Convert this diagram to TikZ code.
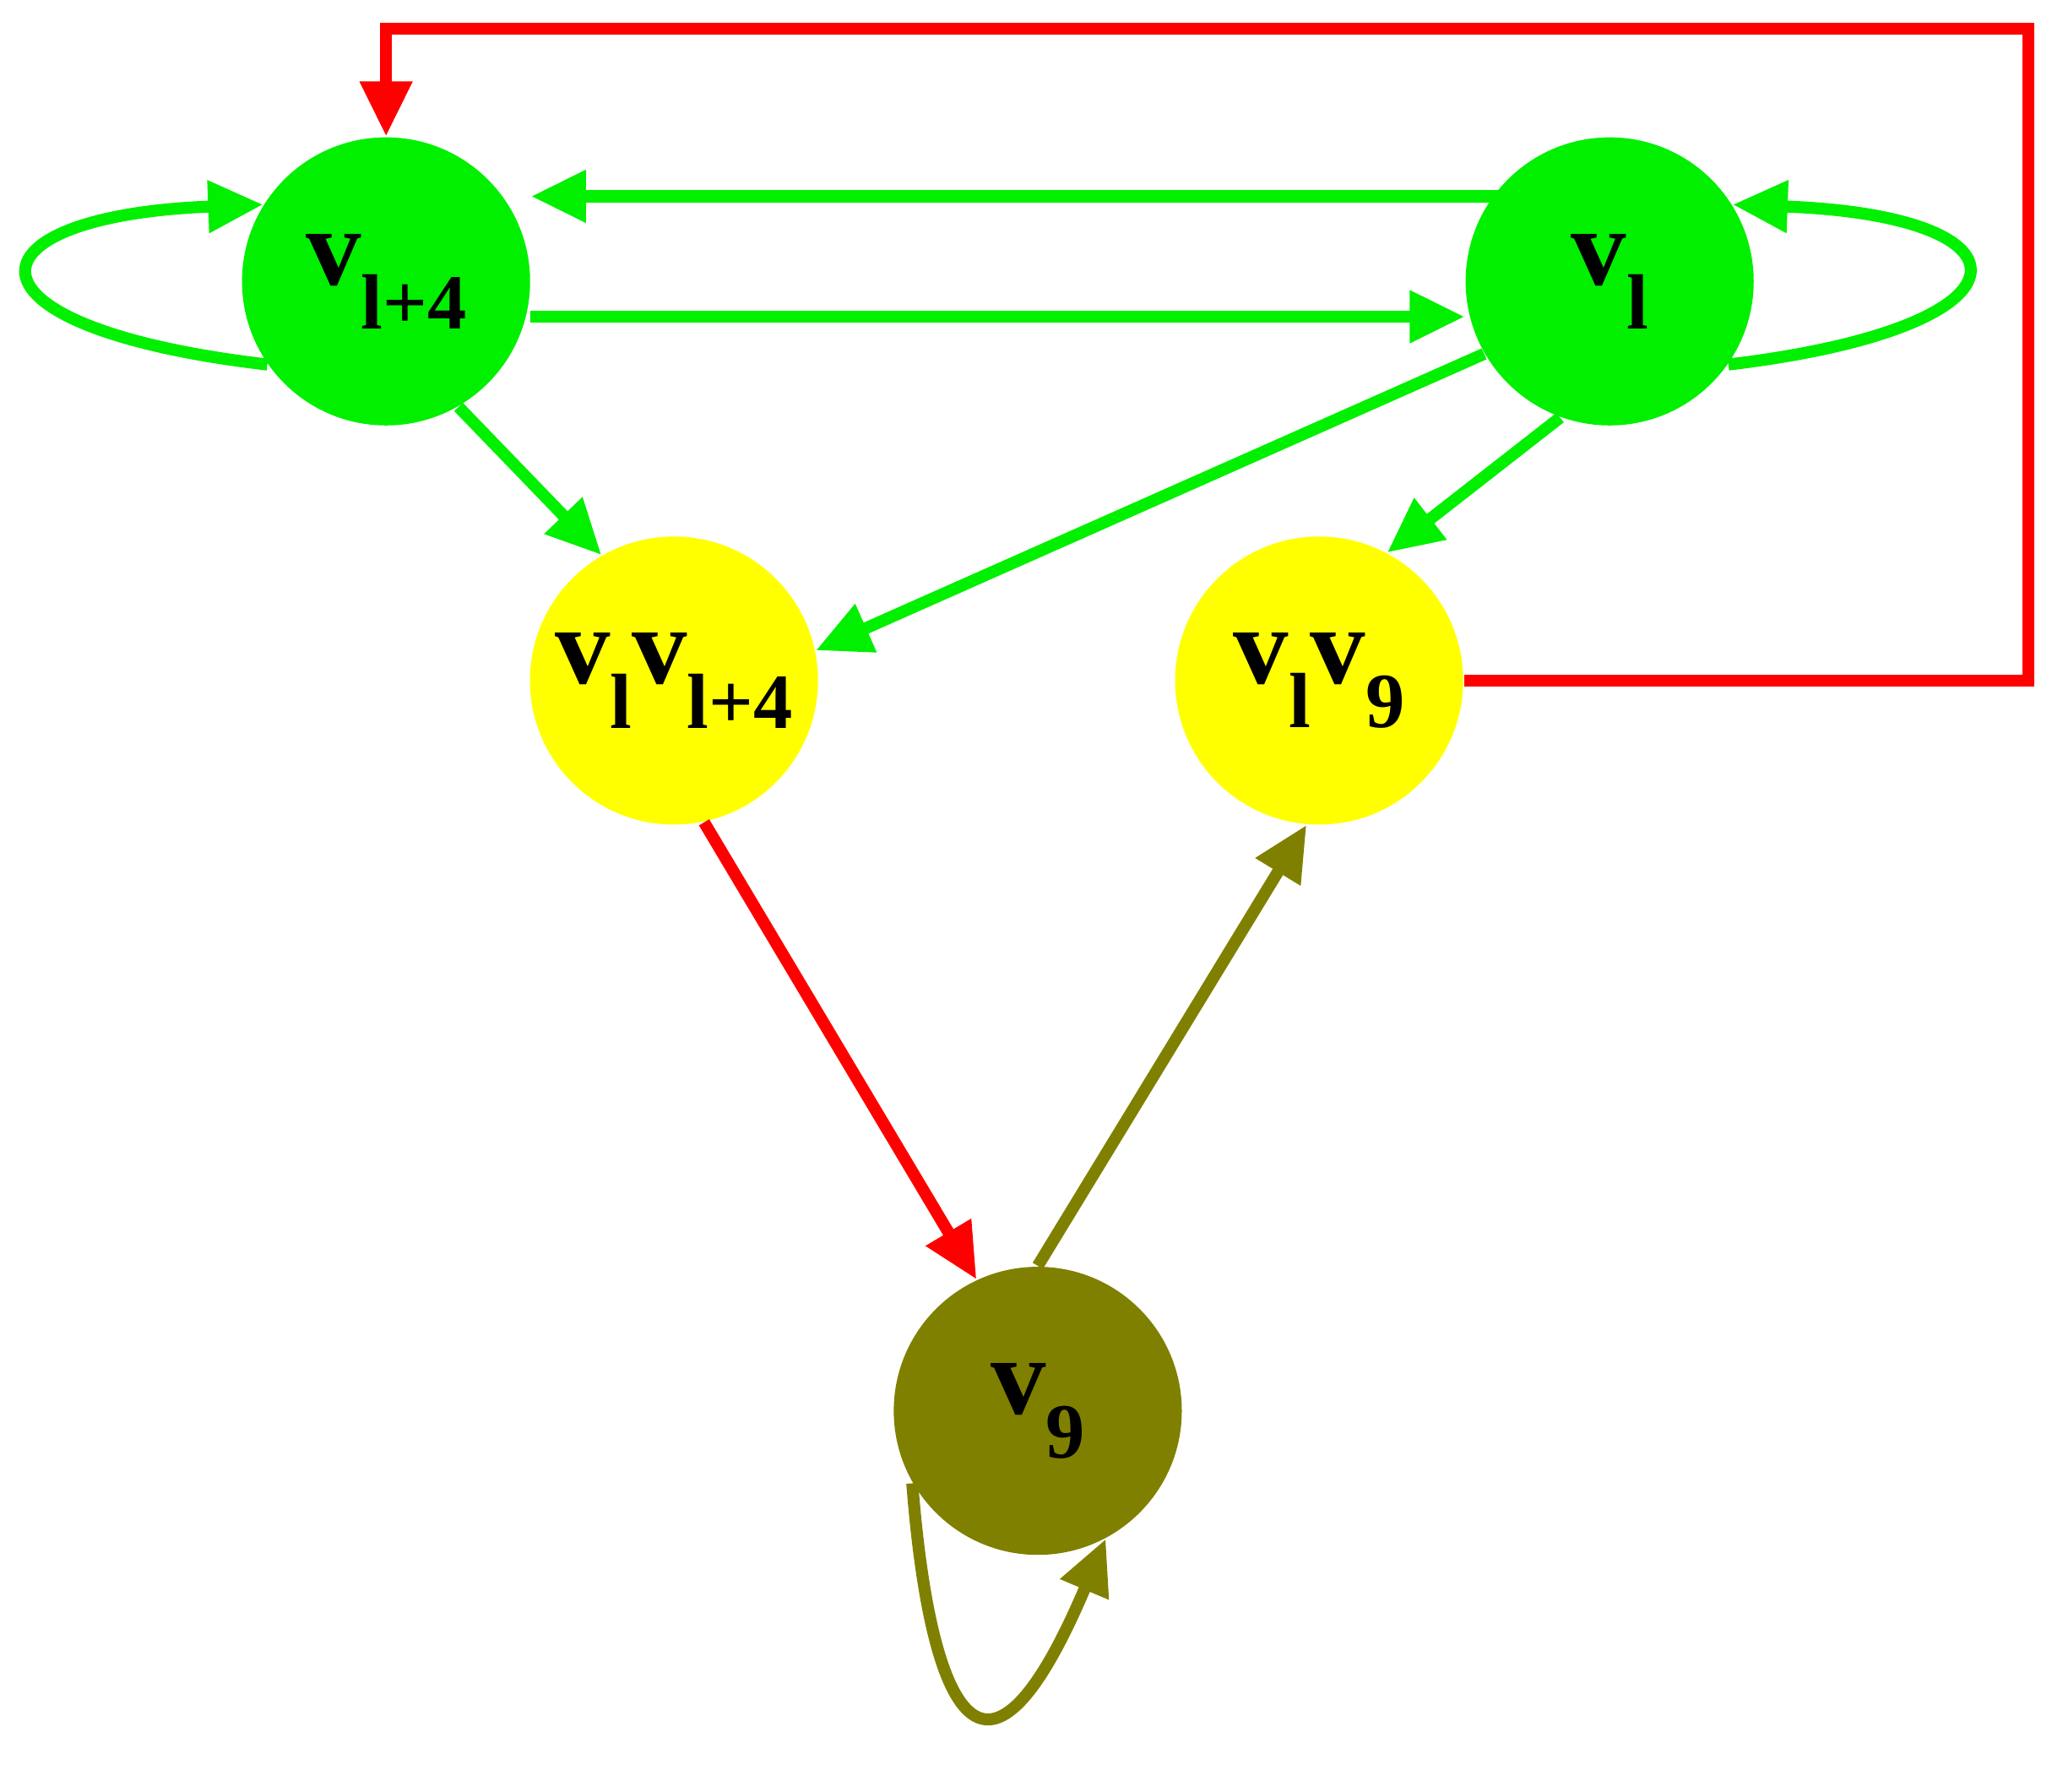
\documentclass[tikz,border=0pt]{standalone}
\usepackage{fontspec}
\setmainfont{Liberation Serif}
\usetikzlibrary{arrows.meta}
\definecolor{gr}{RGB}{0,240,0}
\definecolor{ol}{RGB}{128,128,0}
\definecolor{rd}{RGB}{255,0,0}
\definecolor{ye}{RGB}{255,255,0}
\newcommand{\sbx}[1]{\raisebox{-0.4em}{\fontsize{17}{17}\selectfont #1}}
\begin{document}
\begin{tikzpicture}[x=0.01cm,y=-0.01cm,
  vtx/.style={circle,minimum size=2.2cm,inner sep=0pt,font=\fontsize{24}{24}\selectfont\bfseries},
  edge/.style={line width=2.6pt,-{Triangle[length=0.42cm,width=0.38cm]}}]
\useasboundingbox (0,0) rectangle (1568,1369);
\node[vtx,fill=gr] (a) at (295,215) {v\sbx{l+4}};
\node[vtx,fill=gr] (b) at (1230,215) {v\sbx{l}};
\node[vtx,fill=ye] (c) at (515,520) {v\sbx{l}v\sbx{l+4}};
\node[vtx,fill=ye] (d) at (1008,520) {v\sbx{l}v\sbx{9}};
\node[vtx,fill=ol] (e) at (793,1078) {v\sbx{9}};
\coordinate (t1) at (1145,150);
\coordinate (t2) at (405,242);
\draw[edge,gr] (t1) -- (a.east |- t1);
\draw[edge,gr] (t2) -- (b.west |- t2);
\draw[edge,gr] (a.215) .. controls (-40,250) and (-30,165) .. (a.148);
\draw[edge,gr] (b.-35) .. controls (1560,250) and (1560,165) .. (b.32);
\draw[edge,gr] (a.-60) -- (c.120);
\draw[edge,gr] (b.-150) -- (c.12);
\draw[edge,gr] (b.-110) -- (d.62);
\coordinate (r1) at (1550,520);
\coordinate (r2) at (1550,22);
\coordinate (r3) at (295,22);
\draw[edge,rd] (d.east) -- (r1) -- (r2) -- (r3) -- (a.north);
\draw[edge,rd] (c.-78) -- (e.115);
\draw[edge,ol] (e.90) -- (d.-95);
\draw[edge,ol] (e.-150) .. controls (710,1300) and (750,1400) .. (e.-62);
\end{tikzpicture}
\end{document}
